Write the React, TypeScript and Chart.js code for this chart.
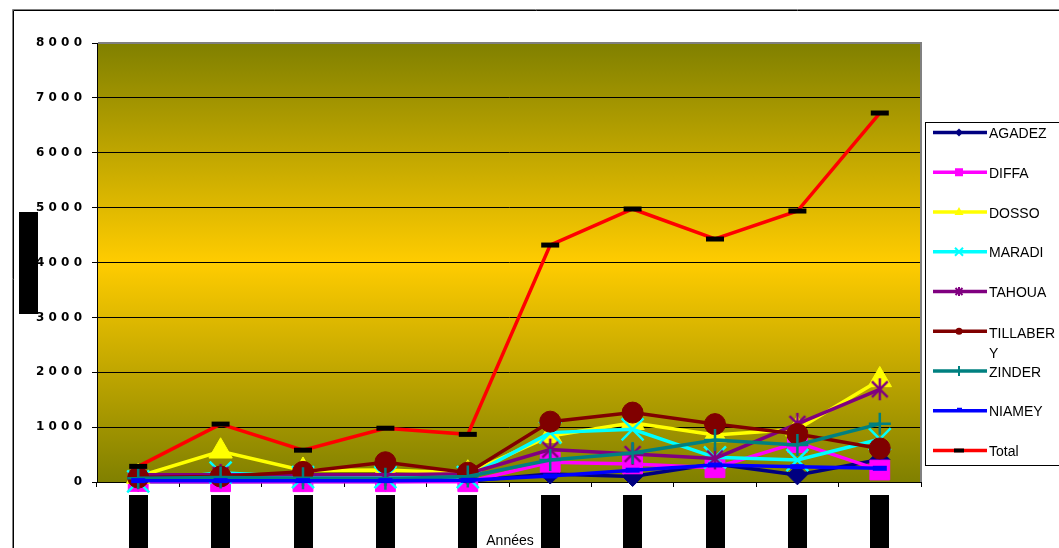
import React, { useEffect, useRef } from 'react';
import { Chart, registerables } from 'chart.js';

Chart.register(...registerables);

// ---- data (the year labels are hidden in the reference) ----
const categories = ['1', '2', '3', '4', '5', '6', '7', '8', '9', '10'];
const seriesNames = ['AGADEZ', 'DIFFA', 'DOSSO', 'MARADI', 'TAHOUA', 'TILLABERY', 'ZINDER', 'NIAMEY', 'Total'];
const agadez = [5, 5, 10, 10, 20, 145, 100, 330, 130, 410];
const diffa = [10, 5, 5, 5, 5, 360, 330, 260, 720, 218];
const dosso = [100, 560, 210, 220, 160, 840, 1080, 855, 960, 1860];
const maradi = [10, 170, 90, 90, 90, 900, 960, 450, 400, 780];
const tahoua = [130, 130, 130, 130, 150, 590, 510, 430, 1060, 1690];
const tillabery = [80, 100, 185, 360, 170, 1100, 1265, 1055, 875, 612];
const zinder = [70, 80, 70, 60, 100, 400, 530, 765, 673, 1060];
const niamey = [25, 25, 25, 25, 30, 110, 215, 310, 280, 250];
const total = [285, 1055, 580, 980, 868, 4318, 4975, 4428, 4938, 6724];
const seriesValues = [agadez, diffa, dosso, maradi, tahoua, tillabery, zinder, niamey, total];
const yMin = 0;
const yMax = 8000;
const yStep = 1000;
const xTitle = 'Années';

// ---- styles ----
const seriesColors = ['#000080', '#FF00FF', '#FFFF00', '#00FFFF', '#800080', '#800000', '#008080', '#0000FF', '#FF0000'];
const markerKinds = ['diamond', 'square', 'triangle', 'x', 'asterisk', 'circle', 'plus', 'dash', 'total'];
const ARIAL = 'Arial, "Liberation Sans", sans-serif';

function makeAsterisk(size: number, color: string, lw: number): HTMLCanvasElement {
  const c = document.createElement('canvas');
  c.width = size;
  c.height = size;
  const g = c.getContext('2d')!;
  g.strokeStyle = color;
  g.lineWidth = lw;
  const m = size / 2;
  const r = size / 2 - 1;
  const d = r * 0.72;
  g.beginPath();
  g.moveTo(m - d, m - d);
  g.lineTo(m + d, m + d);
  g.moveTo(m + d, m - d);
  g.lineTo(m - d, m + d);
  g.moveTo(m, m - r);
  g.lineTo(m, m + r);
  g.stroke();
  return c;
}

function pointOptions(kind: string, color: string): any {
  switch (kind) {
    case 'diamond':
      return { pointStyle: 'rectRot', pointRadius: 10, pointBackgroundColor: color, pointBorderColor: color, pointBorderWidth: 1 };
    case 'square':
      return { pointStyle: 'rect', pointRadius: 14, pointBackgroundColor: color, pointBorderColor: color, pointBorderWidth: 1 };
    case 'triangle':
      return { pointStyle: 'triangle', pointRadius: 13.5, pointBackgroundColor: color, pointBorderColor: color, pointBorderWidth: 1 };
    case 'x':
      return { pointStyle: 'crossRot', pointRadius: 15.5, pointBorderColor: color, pointBorderWidth: 2.5 };
    case 'asterisk':
      return { pointStyle: makeAsterisk(24, color, 2.5), pointRadius: 12 };
    case 'circle':
      return { pointStyle: 'circle', pointRadius: 10.5, pointBackgroundColor: color, pointBorderColor: color, pointBorderWidth: 1 };
    case 'plus':
      return { pointStyle: 'cross', pointRadius: 11, pointBorderColor: color, pointBorderWidth: 2.5 };
    case 'dash':
      return { pointStyle: 'line', pointRadius: 7, pointBorderColor: color, pointBorderWidth: 5 };
    default:
      return { pointStyle: 'line', pointRadius: 9, pointBorderColor: '#000', pointBorderWidth: 5 };
  }
}

function drawLegendMarker(ctx: CanvasRenderingContext2D, kind: string, x: number, y: number, color: string) {
  ctx.save();
  ctx.fillStyle = color;
  ctx.strokeStyle = color;
  ctx.lineWidth = 2;
  ctx.beginPath();
  switch (kind) {
    case 'diamond':
      ctx.moveTo(x, y - 4); ctx.lineTo(x + 4, y); ctx.lineTo(x, y + 4); ctx.lineTo(x - 4, y); ctx.closePath(); ctx.fill();
      break;
    case 'square':
      ctx.fillRect(x - 4, y - 4, 8, 8);
      break;
    case 'triangle':
      ctx.moveTo(x, y - 5); ctx.lineTo(x + 4.5, y + 3); ctx.lineTo(x - 4.5, y + 3); ctx.closePath(); ctx.fill();
      break;
    case 'x':
      ctx.moveTo(x - 4, y - 4); ctx.lineTo(x + 4, y + 4); ctx.moveTo(x + 4, y - 4); ctx.lineTo(x - 4, y + 4); ctx.stroke();
      break;
    case 'asterisk':
      ctx.moveTo(x - 3.5, y - 3.5); ctx.lineTo(x + 3.5, y + 3.5); ctx.moveTo(x + 3.5, y - 3.5); ctx.lineTo(x - 3.5, y + 3.5);
      ctx.moveTo(x, y - 4.5); ctx.lineTo(x, y + 4.5); ctx.stroke();
      break;
    case 'circle':
      ctx.arc(x, y, 3.5, 0, Math.PI * 2); ctx.fill();
      break;
    case 'plus':
      ctx.moveTo(x, y - 5); ctx.lineTo(x, y + 5); ctx.stroke();
      break;
    case 'dash':
      ctx.fillRect(x - 2, y - 3, 5, 3);
      break;
    default:
      ctx.fillStyle = '#000';
      ctx.fillRect(x - 5, y - 2, 10, 4);
  }
  ctx.restore();
}

const decor = {
  id: 'decor',
  beforeDraw(chart: any) {
    const { ctx, chartArea: a, width, height } = chart;
    ctx.save();
    ctx.fillStyle = '#ffffff';
    ctx.fillRect(0, 0, width, height);
    const g = ctx.createLinearGradient(0, a.top, 0, a.bottom);
    g.addColorStop(0, '#808000');
    g.addColorStop(0.5, '#FFCC00');
    g.addColorStop(1, '#808000');
    ctx.fillStyle = g;
    ctx.fillRect(a.left, a.top, a.right - a.left, a.bottom - a.top);
    ctx.restore();
  },
  beforeDatasetsDraw(chart: any) {
    const { ctx, chartArea: a } = chart;
    ctx.save();
    ctx.strokeStyle = '#808080';
    ctx.lineWidth = 2;
    ctx.beginPath();
    ctx.moveTo(a.left + 1, a.top);
    ctx.lineTo(a.right, a.top);
    ctx.lineTo(a.right, a.bottom);
    ctx.stroke();
    ctx.restore();
  },
  afterDraw(chart: any) {
    const { ctx, chartArea: a, width, height } = chart;
    const xs = chart.scales.x;
    ctx.save();
    // outer frame
    ctx.lineWidth = 1;
    ctx.strokeStyle = '#808080';
    ctx.beginPath();
    ctx.moveTo(12.5, height);
    ctx.lineTo(12.5, 9.5);
    ctx.lineTo(width, 9.5);
    ctx.stroke();
    ctx.strokeStyle = '#000';
    ctx.beginPath();
    ctx.moveTo(13.5, height);
    ctx.lineTo(13.5, 10.5);
    ctx.lineTo(width, 10.5);
    ctx.stroke();

    // hidden (blacked-out) category labels and y-axis title, as in the reference
    ctx.fillStyle = '#000';
    categories.forEach((_, i) => {
      const x = xs.getPixelForValue(i);
      ctx.fillRect(Math.round(x - 9.5), 495, 19, height - 495);
    });
    ctx.fillRect(19, 212, 19, 102);

    // x-axis title
    ctx.fillStyle = '#000';
    ctx.font = `14px ${ARIAL}`;
    ctx.textAlign = 'center';
    ctx.textBaseline = 'alphabetic';
    ctx.fillText(xTitle, (a.left + a.right) / 2 + 1, 545);

    // legend
    const lx = 925.5;
    const ly = 122.5;
    ctx.fillStyle = '#fff';
    ctx.fillRect(lx, ly, width - lx + 5, 343);
    ctx.strokeStyle = '#000';
    ctx.lineWidth = 1;
    ctx.strokeRect(lx, ly, width - lx + 5, 343);
    ctx.font = `14px ${ARIAL}`;
    ctx.textAlign = 'left';
    seriesNames.forEach((name, i) => {
      const y = 132.5 + 39.75 * i;
      const color = seriesColors[i];
      ctx.strokeStyle = color;
      ctx.lineWidth = 3.5;
      ctx.beginPath();
      ctx.moveTo(933, y);
      ctx.lineTo(987, y);
      ctx.stroke();
      drawLegendMarker(ctx, markerKinds[i], 959, y, color);
      ctx.fillStyle = '#000';
      if (name === 'TILLABERY') {
        ctx.fillText('TILLABER', 989, y + 7);
        ctx.fillText('Y', 989, y + 27);
      } else {
        ctx.fillText(name, 989, y + 5.5);
      }
    });
    ctx.restore();
  },
};

export default function App() {
  const ref = useRef<HTMLCanvasElement | null>(null);

  useEffect(() => {
    if (!ref.current) return;
    const n = seriesNames.length;
    const datasets = seriesNames.map((name, i) => ({
      label: name,
      data: seriesValues[i],
      borderColor: seriesColors[i],
      backgroundColor: seriesColors[i],
      borderWidth: 3.5,
      tension: 0,
      fill: false,
      clip: false as any,
      order: n - i,
      ...pointOptions(markerKinds[i], seriesColors[i]),
    }));
    const chart = new Chart(ref.current, {
      type: 'line',
      data: { labels: categories, datasets },
      options: {
        animation: false,
        responsive: false,
        events: [],
        layout: { padding: { left: 0, right: 138, top: 43, bottom: 0 } },
        plugins: { legend: { display: false }, tooltip: { enabled: false }, title: { display: false } },
        scales: {
          x: {
            type: 'category',
            offset: true,
            grid: { offset: true, drawOnChartArea: false, color: '#000', tickLength: 5, lineWidth: 1 },
            border: { color: '#000', width: 1 },
            ticks: { display: false },
            afterFit: (s: any) => {
              s.height = 66;
            },
          },
          y: {
            min: yMin,
            max: yMax,
            grid: { color: '#000', tickLength: 5, lineWidth: 1 },
            border: { color: '#000', width: 1 },
            ticks: {
              stepSize: yStep,
              padding: 10,
              color: '#000',
              font: { family: '"DejaVu Sans", sans-serif', size: 12, weight: 'bold' },
              callback: (v: any) => String(v).split('').join(' '),
            },
            afterFit: (s: any) => {
              s.width = 97;
            },
          },
        },
      },
      plugins: [decor],
    });
    return () => chart.destroy();
  }, []);

  return (
    <div style={{ position: 'absolute', left: 0, top: 0, width: 1059, height: 548, overflow: 'hidden', background: '#fff' }}>
      <canvas ref={ref} width={1059} height={548} style={{ display: 'block', width: 1059, height: 548 }} />
    </div>
  );
}
